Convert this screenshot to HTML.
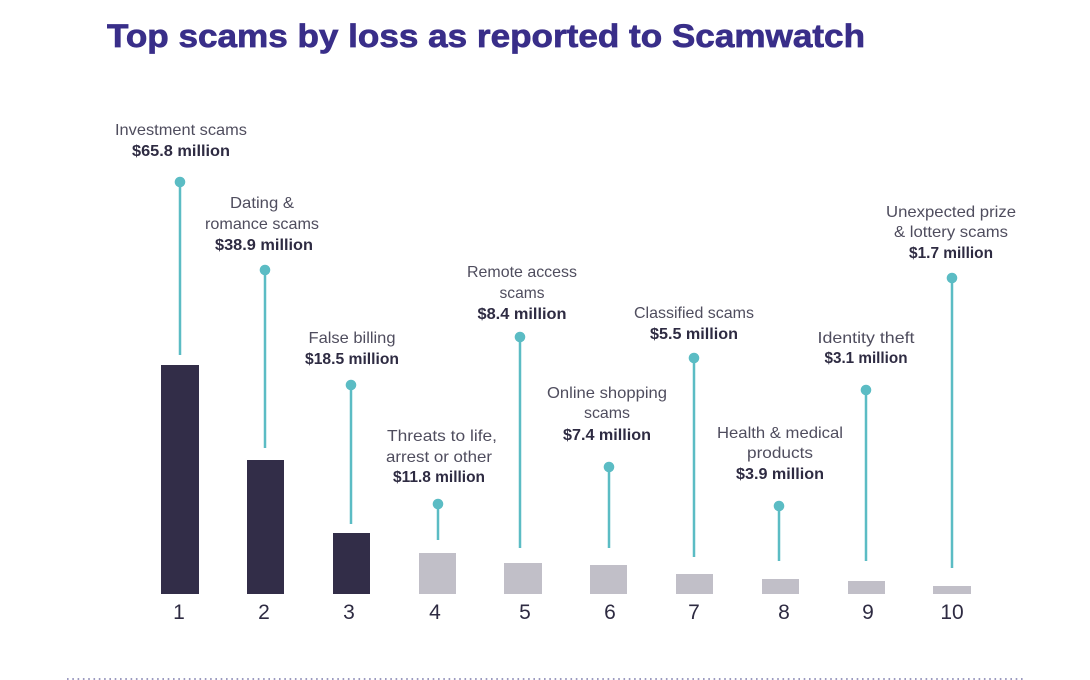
<!DOCTYPE html>
<html>
<head>
<meta charset="utf-8">
<style>
html,body{margin:0;padding:0;background:#fff;}
svg{display:block;}
.t{font-family:"Liberation Sans",sans-serif;font-size:16px;fill:#4f4d5e;}
.b{font-family:"Liberation Sans",sans-serif;font-size:16px;font-weight:bold;fill:#2e2b42;}
.n{font-family:"Liberation Sans",sans-serif;font-size:21px;fill:#2e2b42;}
</style>
</head>
<body>
<svg width="1090" height="680" viewBox="0 0 1090 680" xmlns="http://www.w3.org/2000/svg">
<rect x="0" y="0" width="1090" height="680" fill="#fff"/>
<text x="107" y="47" font-family="Liberation Sans, sans-serif" font-weight="bold" font-size="32" fill="#392e89" stroke="#392e89" stroke-width="0.7" textLength="758" lengthAdjust="spacingAndGlyphs">Top scams by loss as reported to Scamwatch</text>

<!-- bars -->
<g>
<rect x="161" y="365" width="38" height="229" fill="#322d48"/>
<rect x="247" y="460" width="37" height="134" fill="#322d48"/>
<rect x="333" y="533" width="37" height="61" fill="#322d48"/>
<rect x="419" y="553" width="37" height="41" fill="#c1bfc8"/>
<rect x="504" y="563" width="38" height="31" fill="#c1bfc8"/>
<rect x="590" y="565" width="37" height="29" fill="#c1bfc8"/>
<rect x="676" y="574" width="37" height="20" fill="#c1bfc8"/>
<rect x="762" y="579" width="37" height="15" fill="#c1bfc8"/>
<rect x="848" y="581" width="37" height="13" fill="#c1bfc8"/>
<rect x="933" y="586" width="38" height="8" fill="#c1bfc8"/>
</g>

<!-- lollipops -->
<g stroke="#5bbcc4" stroke-width="2.5" fill="#5bbcc4">
<line x1="180" y1="182" x2="180" y2="355"/><circle cx="180" cy="182" r="5.3" stroke="none"/>
<line x1="265" y1="270" x2="265" y2="448"/><circle cx="265" cy="270" r="5.3" stroke="none"/>
<line x1="351" y1="385" x2="351" y2="524"/><circle cx="351" cy="385" r="5.3" stroke="none"/>
<line x1="438" y1="504" x2="438" y2="540"/><circle cx="438" cy="504" r="5.3" stroke="none"/>
<line x1="520" y1="337" x2="520" y2="548"/><circle cx="520" cy="337" r="5.3" stroke="none"/>
<line x1="609" y1="467" x2="609" y2="548"/><circle cx="609" cy="467" r="5.3" stroke="none"/>
<line x1="694" y1="358" x2="694" y2="557"/><circle cx="694" cy="358" r="5.3" stroke="none"/>
<line x1="779" y1="506" x2="779" y2="561"/><circle cx="779" cy="506" r="5.3" stroke="none"/>
<line x1="866" y1="390" x2="866" y2="561"/><circle cx="866" cy="390" r="5.3" stroke="none"/>
<line x1="952" y1="278" x2="952" y2="568"/><circle cx="952" cy="278" r="5.3" stroke="none"/>
</g>

<!-- labels -->
<g text-anchor="middle">
<text class="t" x="181" y="135" textLength="132" lengthAdjust="spacingAndGlyphs">Investment scams</text>
<text class="b" x="181" y="156" textLength="98" lengthAdjust="spacingAndGlyphs">$65.8 million</text>

<text class="t" x="262" y="208" textLength="64" lengthAdjust="spacingAndGlyphs">Dating &amp;</text>
<text class="t" x="262" y="229" textLength="114" lengthAdjust="spacingAndGlyphs">romance scams</text>
<text class="b" x="264" y="250" textLength="98" lengthAdjust="spacingAndGlyphs">$38.9 million</text>

<text class="t" x="352" y="343" textLength="87" lengthAdjust="spacingAndGlyphs">False billing</text>
<text class="b" x="352" y="364" textLength="94" lengthAdjust="spacingAndGlyphs">$18.5 million</text>

<text class="t" x="442" y="441" textLength="110" lengthAdjust="spacingAndGlyphs">Threats to life,</text>
<text class="t" x="439" y="462" textLength="106" lengthAdjust="spacingAndGlyphs">arrest or other</text>
<text class="b" x="439" y="482" textLength="92" lengthAdjust="spacingAndGlyphs">$11.8 million</text>

<text class="t" x="522" y="277" textLength="110" lengthAdjust="spacingAndGlyphs">Remote access</text>
<text class="t" x="522" y="298" textLength="45" lengthAdjust="spacingAndGlyphs">scams</text>
<text class="b" x="522" y="319" textLength="89" lengthAdjust="spacingAndGlyphs">$8.4 million</text>

<text class="t" x="607" y="398" textLength="120" lengthAdjust="spacingAndGlyphs">Online shopping</text>
<text class="t" x="607" y="418" textLength="46" lengthAdjust="spacingAndGlyphs">scams</text>
<text class="b" x="607" y="440" textLength="88" lengthAdjust="spacingAndGlyphs">$7.4 million</text>

<text class="t" x="694" y="318" textLength="120" lengthAdjust="spacingAndGlyphs">Classified scams</text>
<text class="b" x="694" y="339" textLength="88" lengthAdjust="spacingAndGlyphs">$5.5 million</text>

<text class="t" x="780" y="438" textLength="126" lengthAdjust="spacingAndGlyphs">Health &amp; medical</text>
<text class="t" x="780" y="458" textLength="66" lengthAdjust="spacingAndGlyphs">products</text>
<text class="b" x="780" y="479" textLength="88" lengthAdjust="spacingAndGlyphs">$3.9 million</text>

<text class="t" x="866" y="343" textLength="97" lengthAdjust="spacingAndGlyphs">Identity theft</text>
<text class="b" x="866" y="363" textLength="83" lengthAdjust="spacingAndGlyphs">$3.1 million</text>

<text class="t" x="951" y="217" textLength="130" lengthAdjust="spacingAndGlyphs">Unexpected prize</text>
<text class="t" x="951" y="237" textLength="114" lengthAdjust="spacingAndGlyphs">&amp; lottery scams</text>
<text class="b" x="951" y="258" textLength="84" lengthAdjust="spacingAndGlyphs">$1.7 million</text>
</g>

<!-- numbers -->
<g text-anchor="middle">
<text class="n" x="179" y="619">1</text>
<text class="n" x="264" y="619">2</text>
<text class="n" x="349" y="619">3</text>
<text class="n" x="435" y="619">4</text>
<text class="n" x="525" y="619">5</text>
<text class="n" x="610" y="619">6</text>
<text class="n" x="694" y="619">7</text>
<text class="n" x="784" y="619">8</text>
<text class="n" x="868" y="619">9</text>
<text class="n" x="952" y="619">10</text>
</g>

<!-- dotted rule -->
<line x1="67" y1="679" x2="1023" y2="679" stroke="#7b78aa" stroke-width="1.6" stroke-dasharray="1.6 3.7"/>
</svg>
</body>
</html>
